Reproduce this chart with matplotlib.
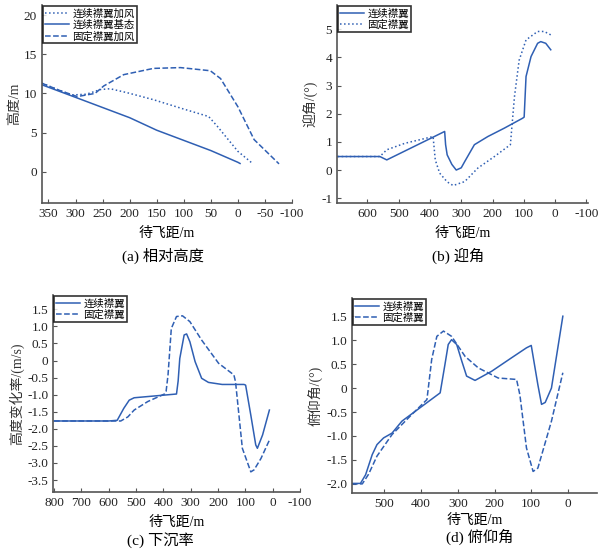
import numpy as np
import matplotlib
matplotlib.use('Agg')
import matplotlib.pyplot as plt

plt.rcParams['font.family'] = ['Liberation Serif', 'Noto Sans CJK SC']
plt.rcParams['axes.unicode_minus'] = False

blue = '#2f5fb3'

# (a) 相对高度
a_base_x = [362, 300, 250, 200, 150, 100, 50, 0, -4]
a_base_y = [11.1, 9.5, 8.2, 6.9, 5.3, 4.0, 2.7, 1.2, 1.05]
a_cont_x = [362, 330, 307, 280, 254, 236, 205, 156, 100, 54, 38, 0, -28]
a_cont_y = [11.3, 10.4, 9.8, 9.9, 10.5, 10.6, 10.1, 9.2, 8.0, 7.05, 5.8, 2.6, 1.0]
a_fix_x = [362, 330, 297, 264, 248, 211, 156, 106, 51, 32, 0, -30, -76]
a_fix_y = [11.3, 10.4, 9.6, 10.0, 10.95, 12.4, 13.2, 13.3, 12.9, 11.9, 8.3, 4.1, 1.0]

# (b) 迎角
b_cont_x = [695, 600, 560, 538, 353, 350, 345, 330, 316, 300, 289, 258, 215, 162, 104, 99, 93, 77, 56, 46, 30, 14]
b_cont_y = [0.48, 0.48, 0.48, 0.36, 1.37, 0.9, 0.54, 0.2, 0.0, 0.08, 0.3, 0.9, 1.19, 1.49, 1.84, 1.88, 3.32, 4.03, 4.5, 4.56, 4.5, 4.27]
b_fix_x = [695, 600, 560, 538, 480, 390, 383, 369, 345, 326, 289, 247, 194, 143, 130, 115, 93, 56, 35, 14]
b_fix_y = [0.48, 0.48, 0.48, 0.72, 0.95, 1.19, 0.36, -0.11, -0.42, -0.55, -0.41, 0.07, 0.48, 0.9, 2.6, 3.9, 4.62, 4.92, 4.92, 4.8]

# (c) 下沉率
c_cont_x = [800, 600, 569, 545, 525, 507, 352, 346, 340, 324, 315, 303, 284, 260, 235, 185, 105, 99, 80, 62, 56, 37, 12]
c_cont_y = [-1.77, -1.77, -1.75, -1.4, -1.16, -1.09, -0.98, -0.6, 0.06, 0.75, 0.78, 0.55, -0.03, -0.52, -0.64, -0.70, -0.70, -0.72, -1.6, -2.47, -2.57, -2.18, -1.45]
c_fix_x = [800, 600, 556, 530, 507, 457, 396, 390, 383, 371, 352, 330, 303, 260, 198, 142, 136, 111, 80, 68, 43, 12]
c_fix_y = [-1.77, -1.77, -1.77, -1.65, -1.45, -1.2, -0.98, -0.9, -0.42, 0.94, 1.29, 1.31, 1.14, 0.60, -0.08, -0.42, -0.62, -2.57, -3.26, -3.2, -2.87, -2.33]

# (d) 俯仰角
d_cont_x = [588, 565, 551, 533, 520, 502, 479, 452, 348, 335, 326, 317, 303, 289, 276, 253, 208, 154, 113, 100, 82, 72, 62, 45, 14]
d_cont_y = [-1.99, -1.99, -1.81, -1.39, -1.18, -1.04, -0.94, -0.69, -0.10, 0.49, 0.91, 1.01, 0.91, 0.56, 0.25, 0.16, 0.35, 0.63, 0.84, 0.89, 0.07, -0.34, -0.30, 0.0, 1.5]
d_fix_x = [588, 560, 543, 520, 479, 425, 384, 371, 357, 339, 317, 280, 244, 190, 140, 131, 113, 95, 82, 45, 14]
d_fix_y = [-2.0, -2.0, -1.8, -1.42, -0.97, -0.55, -0.24, 0.6, 1.08, 1.19, 1.08, 0.66, 0.42, 0.21, 0.18, -0.14, -1.25, -1.74, -1.67, -0.69, 0.32]

W, H = 610, 550
fig = plt.figure(figsize=(W / 100, H / 100), dpi=100)


def make_ax(l, r, t, b):
    ax = fig.add_axes([l / W, 1 - b / H, (r - l) / W, (b - t) / H])
    ax.spines['top'].set_visible(False)
    ax.spines['right'].set_visible(False)
    for s in ['left', 'bottom']:
        ax.spines[s].set_color('#555555')
        ax.spines[s].set_linewidth(1.2)
    ax.tick_params(direction='in', labelsize=9.5, length=3, colors='#555555', labelcolor='#222222')
    return ax


def legend(ax):
    lg = ax.legend(loc='upper left', fontsize=7.5, frameon=True, fancybox=False,
                   borderpad=0.2, labelspacing=0.1, handlelength=2.3, handletextpad=0.3,
                   borderaxespad=0.1)
    lg.get_frame().set_edgecolor('black')
    lg.get_frame().set_linewidth(1.2)


lw = 1.1

ax = make_ax(42, 292, 5, 203)
ax.plot(a_cont_x, a_cont_y, ':', color=blue, lw=lw, label='连续襟翼加风')
ax.plot(a_base_x, a_base_y, '-', color=blue, lw=lw, label='连续襟翼基态')
ax.plot(a_fix_x, a_fix_y, '--', color=blue, lw=lw, label='固定襟翼加风')
ax.set_xlim(362, -100)
ax.set_ylim(-4, 21.3)
ax.set_xticks([350, 300, 250, 200, 150, 100, 50, 0, -50, -100])
ax.set_yticks([0, 5, 10, 15, 20])
ax.set_ylabel('高度/m', fontsize=10, labelpad=2, color='#333333')
ax.set_xlabel('待飞距/m', fontsize=10, labelpad=5)
legend(ax)
fig.text(163 / W, 1 - 256 / H, '(a) 相对高度', ha='center', va='center', fontsize=11)

ax = make_ax(337, 588, 5, 203)
ax.plot(b_cont_x, b_cont_y, '-', color=blue, lw=lw, label='连续襟翼')
ax.plot(b_fix_x, b_fix_y, ':', color=blue, lw=lw, label='固定襟翼')
ax.set_xlim(697, -105)
ax.set_ylim(-1.17, 5.86)
ax.set_xticks([600, 500, 400, 300, 200, 100, 0, -100])
ax.set_yticks([-1, 0, 1, 2, 3, 4, 5])
ax.set_ylabel('迎角/(°)', fontsize=10, labelpad=2, color='#333333')
ax.set_xlabel('待飞距/m', fontsize=10, labelpad=5)
legend(ax)
fig.text(458 / W, 1 - 256 / H, '(b) 迎角', ha='center', va='center', fontsize=11)

ax = make_ax(53, 300, 295, 492)
ax.plot(c_cont_x, c_cont_y, '-', color=blue, lw=lw, label='连续襟翼')
ax.plot(c_fix_x, c_fix_y, '--', color=blue, lw=lw, label='固定襟翼')
ax.set_xlim(804, -100)
ax.set_ylim(-3.85, 1.92)
ax.set_xticks([800, 700, 600, 500, 400, 300, 200, 100, 0, -100])
ax.set_yticks([1.5, 1.0, 0.5, 0, -0.5, -1.0, -1.5, -2.0, -2.5, -3.0, -3.5])
ax.set_yticklabels(['1.5', '1.0', '0.5', '0', '-0.5', '-1.0', '-1.5', '-2.0', '-2.5', '-3.0', '-3.5'])
ax.set_ylabel('高度变化率/(m/s)', fontsize=10, labelpad=2, color='#333333')
ax.set_xlabel('待飞距/m', fontsize=10, labelpad=5)
legend(ax)
fig.text(160 / W, 1 - 540 / H, '(c) 下沉率', ha='center', va='center', fontsize=11)

ax = make_ax(352, 597, 298, 493)
ax.plot(d_cont_x, d_cont_y, '-', color=blue, lw=lw, label='连续襟翼')
ax.plot(d_fix_x, d_fix_y, '--', color=blue, lw=lw, label='固定襟翼')
ax.set_xlim(588, -79)
ax.set_ylim(-2.19, 1.88)
ax.set_xticks([500, 400, 300, 200, 100, 0])
ax.set_yticks([1.5, 1.0, 0.5, 0, -0.5, -1.0, -1.5, -2.0])
ax.set_yticklabels(['1.5', '1.0', '0.5', '0', '-0.5', '-1.0', '-1.5', '-2.0'])
ax.set_ylabel('俯仰角/(°)', fontsize=10, labelpad=2, color='#333333')
ax.set_xlabel('待飞距/m', fontsize=10, labelpad=3)
legend(ax)
fig.text(480 / W, 1 - 537 / H, '(d) 俯仰角', ha='center', va='center', fontsize=11)

fig.savefig('out.png', dpi=100)
